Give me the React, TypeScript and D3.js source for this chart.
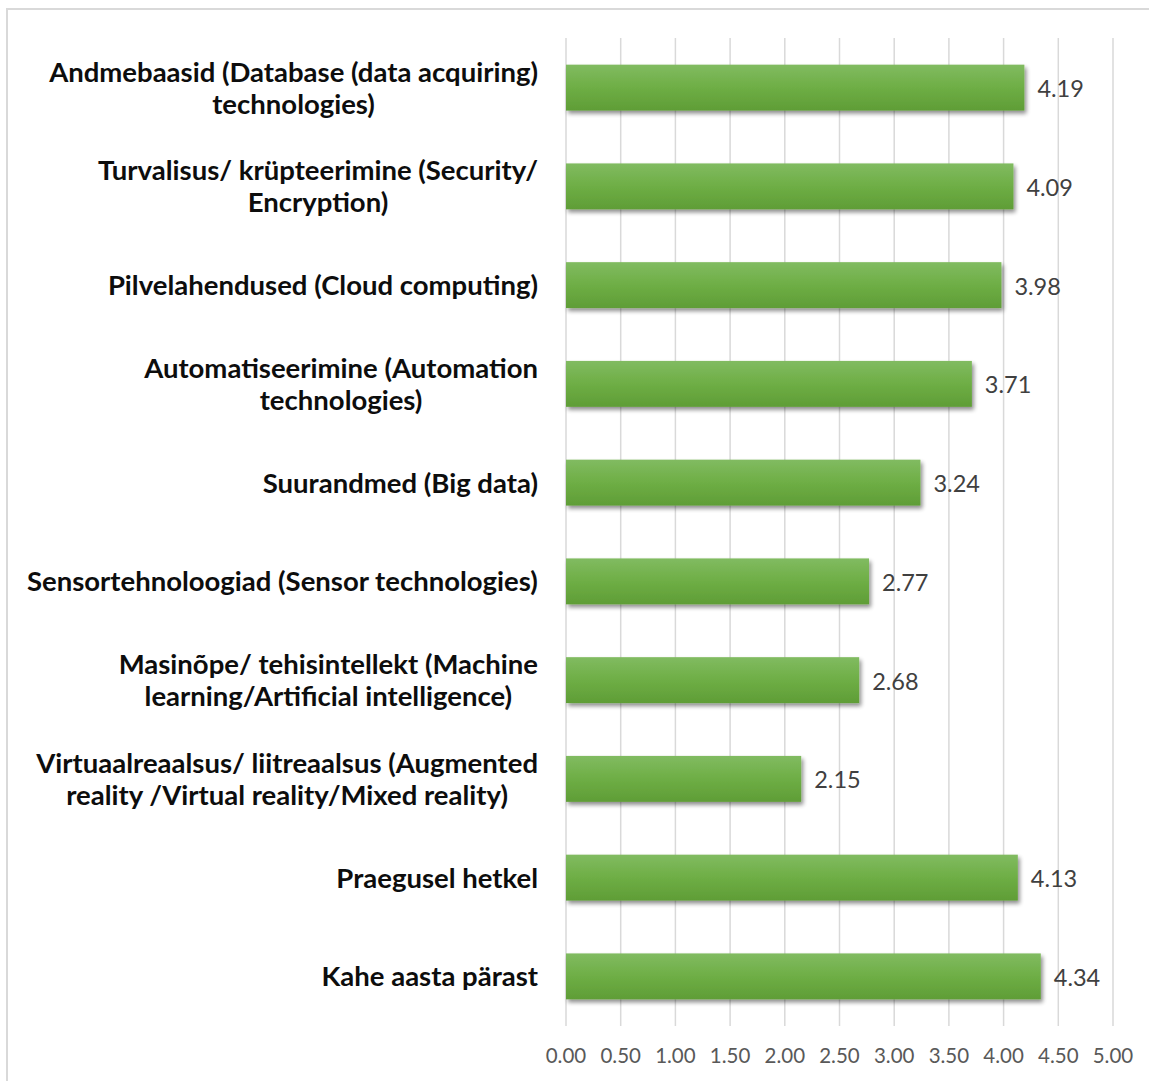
import React from "react";
import * as d3 from "d3";

const categories: string[][] = [
  ["Andmebaasid (Database (data acquiring)", "technologies)"],
  ["Turvalisus/ krüpteerimine (Security/", "Encryption)"],
  ["Pilvelahendused (Cloud computing)"],
  ["Automatiseerimine (Automation", "technologies)"],
  ["Suurandmed (Big data)"],
  ["Sensortehnoloogiad (Sensor technologies)"],
  ["Masinõpe/ tehisintellekt (Machine", "learning/Artificial intelligence)"],
  ["Virtuaalreaalsus/ liitreaalsus (Augmented", "reality /Virtual reality/Mixed reality)"],
  ["Praegusel hetkel"],
  ["Kahe aasta pärast"],
];

const values: number[] = [4.19, 4.09, 3.98, 3.71, 3.24, 2.77, 2.68, 2.15, 4.13, 4.34];

const tickValues: number[] = [0, 0.5, 1, 1.5, 2, 2.5, 3, 3.5, 4, 4.5, 5];

const W = 1149;
const H = 1081;
const FONT = "Lato, 'Open Sans', sans-serif";
const LABEL_SIZE = 27.5;
const LINE_H = 32;

let measureCtx: CanvasRenderingContext2D | null = null;
function textWidth(s: string, font: string): number {
  if (!measureCtx) {
    const c = document.createElement("canvas");
    measureCtx = c.getContext("2d");
  }
  if (!measureCtx) return s.length * 13;
  measureCtx.font = font;
  return measureCtx.measureText(s).width;
}

export default function App() {
  const margin = { left: 566, right: 36, top: 38, bottom: 55 };
  const x = d3.scaleLinear().domain([0, 5]).range([margin.left, margin.left + 547]);
  const ids = categories.map((_, i) => String(i));
  const y = d3
    .scaleBand<string>()
    .domain(ids)
    .range([margin.top, H - margin.bottom])
    .paddingInner(0.535)
    .paddingOuter(0.27);

  const labelRight = 538;
  const labelFont = `bold ${LABEL_SIZE}px ${FONT}`;

  return (
    <svg
      width={W}
      height={H}
      style={{ position: "absolute", left: 0, top: 0, background: "#fff" }}
    >
      <defs>
        <linearGradient id="barGrad" x1="0" y1="0" x2="0" y2="1">
          <stop offset="0" stopColor="#81bb61" />
          <stop offset="0.5" stopColor="#6eae45" />
          <stop offset="1" stopColor="#5f9d36" />
        </linearGradient>
        <filter id="barShadow" x="-5%" y="-20%" width="115%" height="160%">
          <feGaussianBlur in="SourceAlpha" stdDeviation="2.2" />
          <feOffset dx="2" dy="3" result="blur" />
          <feComponentTransfer>
            <feFuncA type="linear" slope="0.45" />
          </feComponentTransfer>
          <feMerge>
            <feMergeNode />
            <feMergeNode in="SourceGraphic" />
          </feMerge>
        </filter>
      </defs>

      {/* chart frame */}
      <rect x={7} y={9} width={W + 20} height={H + 20} fill="none" stroke="#d9d9d9" strokeWidth={2} />

      {/* vertical gridlines */}
      {tickValues.map((t) => (
        <line
          key={`g${t}`}
          x1={x(t)}
          x2={x(t)}
          y1={margin.top}
          y2={H - margin.bottom}
          stroke="#d9d9d9"
          strokeWidth={1.5}
        />
      ))}

      {/* bars */}
      {values.map((v, i) => (
        <rect
          key={`b${i}`}
          x={x(0)}
          y={y(ids[i])!}
          width={x(v) - x(0)}
          height={y.bandwidth()}
          fill="url(#barGrad)"
          filter="url(#barShadow)"
        />
      ))}

      {/* value labels */}
      {values.map((v, i) => (
        <text
          key={`v${i}`}
          x={x(v) + 13}
          y={y(ids[i])! + y.bandwidth() / 2 + 9.5}
          fontFamily={FONT}
          fontSize={23.5}
          fill="#404040"
        >
          {v.toFixed(2)}
        </text>
      ))}

      {/* category labels */}
      {categories.map((lines, i) => {
        const maxW = Math.max(...lines.map((l) => textWidth(l, labelFont)));
        const cx = labelRight - maxW / 2;
        const cy = y(ids[i])! + y.bandwidth() / 2;
        const startY = cy - ((lines.length - 1) * LINE_H) / 2 + 10;
        return (
          <text
            key={`c${i}`}
            textAnchor="middle"
            fontFamily={FONT}
            fontWeight="bold"
            fontSize={LABEL_SIZE}
            fill="#0d0d0d"
          >
            {lines.map((l, j) => (
              <tspan key={j} x={cx} y={startY + j * LINE_H}>
                {l}
              </tspan>
            ))}
          </text>
        );
      })}

      {/* x-axis tick labels */}
      {tickValues.map((t) => (
        <text
          key={`t${t}`}
          x={x(t)}
          y={1063}
          textAnchor="middle"
          fontFamily={FONT}
          fontSize={20.5}
          fill="#595959"
        >
          {t.toFixed(2)}
        </text>
      ))}
    </svg>
  );
}
